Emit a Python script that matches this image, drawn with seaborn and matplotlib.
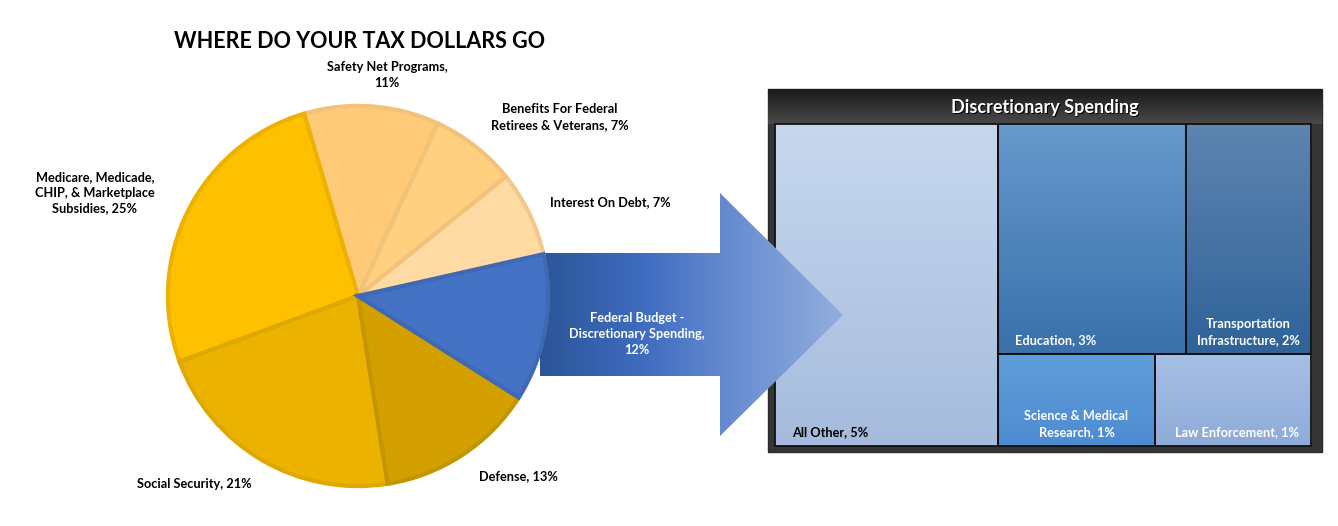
import numpy as np
import matplotlib
matplotlib.use("Agg")
import matplotlib.pyplot as plt
from matplotlib.patches import Polygon, Rectangle
import seaborn as sns

# pie data, counter-clockwise starting at the top edge of the blue slice
pie_labels = ["Interest On Debt, 7%",
              "Benefits For Federal\nRetirees & Veterans, 7%",
              "Safety Net Programs,\n11%",
              "Medicare, Medicade,\nCHIP, & Marketplace\nSubsidies, 25%",
              "Social Security, 21%",
              "Defense, 13%",
              "Federal Budget -\nDiscretionary Spending,\n12%"]
pie_values = [7, 7, 11, 25, 21, 13, 12]
pie_colors = ["#FFDBA3", "#FFD07F", "#FFCA78", "#FFC000", "#EBB300", "#D4A000", "#4472C4"]
pie_edges = ["#F2C98A", "#F2C27A", "#F2C27A", "#EDB200", "#DDA800", "#C59500", "#3F69B5"]
# label centres in pixels (x, y from top)
pie_label_pos = [(610, 202), (560, 117), (387, 75), (95, 193), (194, 484), (518, 476), (637, 334)]

# treemap data
tree_labels = ["All Other, 5%", "Education, 3%", "Transportation\nInfrastructure, 2%",
               "Science & Medical\nResearch, 1%", "Law Enforcement, 1%"]
tree_values = [5, 3, 2, 1, 1]
tree_top = ["#C7D7EE", "#6699CC", "#5E84B0", "#609DDB", "#A6BFE4"]
tree_bot = ["#A6BBDD", "#3A71AB", "#2F6399", "#4D8CD1", "#8EABD9"]
tree_text = ["black", "white", "white", "white", "white"]
tree_ha = ["left", "left", "center", "center", "right"]

sns.set_style("white")
plt.rcParams["font.family"] = ["Lato", "DejaVu Sans"]

W, H = 1338, 526
fig = plt.figure(figsize=(W / 100, H / 100), dpi=100)
fig.patch.set_facecolor("white")

# full-figure axes in pixel units
ax = fig.add_axes([0, 0, 1, 1])
ax.set_axis_off()


def vgrad(c_top, c_bot, n=64):
    pal = sns.blend_palette([c_top, c_bot], n_colors=n)
    return np.array(pal)[:, None, :]


# ---- treemap panel ----
px0, py0, px1, py1 = 768, 89, 1322, 452
ax.add_patch(Rectangle((px0, py0), px1 - px0, py1 - py0, facecolor="#353535", edgecolor="#2a2a2a", zorder=1))
ax.imshow(vgrad("#1a1a1a", "#4a4a4a"), extent=(px0, px1, 124, py0), aspect="auto", zorder=2)
title_kw = dict(fontsize=13, fontweight="bold", ha="center", va="center", zorder=3)
ax.text((px0 + px1) / 2 + 1.2, 108.5, "Discretionary  Spending".replace("  ", " "), color="#000000", **title_kw)
ax.text((px0 + px1) / 2, 107, "Discretionary Spending", color="white", **title_kw)


def layout(vals, x0, y0, x1, y1):
    total = sum(vals)
    xa = x0 + (x1 - x0) * vals[0] / total
    rects = [(x0, y0, xa, y1)]
    rest = vals[1:]
    yy = y0
    for row in [rest[0:2], rest[2:4]]:
        h = (y1 - y0) * sum(row) / sum(rest)
        xx = xa
        for v in row:
            w = (x1 - xa) * v / sum(row)
            rects.append((xx, yy, xx + w, yy + h))
            xx += w
        yy += h
    return rects


rects = layout(tree_values, 775, 124, 1311, 446)
for (x0, y0, x1, y1), lab, ct, cb, tc, ha in zip(rects, tree_labels, tree_top, tree_bot, tree_text, tree_ha):
    ax.imshow(vgrad(ct, cb), extent=(x0, x1, y1, y0), aspect="auto", zorder=2)
    ax.add_patch(Rectangle((x0, y0), x1 - x0, y1 - y0, fill=False, edgecolor="#111111", lw=1.3, zorder=3))
    if ha == "left":
        tx = x0 + 17
    elif ha == "right":
        tx = x1 - 12
    else:
        tx = (x0 + x1) / 2
    ax.text(tx, y1 - 8, lab, color=tc, fontsize=9.2, fontweight="bold", ha=ha, va="bottom",
            multialignment="center", linespacing=1.35, zorder=4)

# ---- arrow ----
arrow_pts = [(540, 253), (720, 253), (720, 193), (843, 315), (720, 436), (720, 376), (540, 376)]
arrow = Polygon(arrow_pts, closed=True, facecolor="none", edgecolor="none", zorder=5)
ax.add_patch(arrow)
hgrad = np.array(sns.blend_palette(["#2B5597", "#3F6CC0", "#6B8FD2", "#93AEDD"], n_colors=128))[None, :, :]
im = ax.imshow(hgrad, extent=(540, 843, 436, 193), aspect="auto", zorder=5)
im.set_clip_path(arrow)
ax.text(pie_label_pos[6][0], pie_label_pos[6][1], pie_labels[6], color="white", fontsize=9.2,
        fontweight="bold", ha="center", va="center", multialignment="center", linespacing=1.35, zorder=6)

# ---- title and pie labels ----
ax.text(360, 42, "WHERE DO YOUR TAX DOLLARS GO", fontsize=15.5, fontweight="bold",
        ha="center", va="center", color="black")
for lab, (lx, ly) in zip(pie_labels[:6], pie_label_pos[:6]):
    ax.text(lx, ly, lab, fontsize=9.2, fontweight="bold", ha="center", va="center",
            multialignment="center", linespacing=1.35, color="black")

ax.set_xlim(0, W)
ax.set_ylim(H, 0)

# ---- pie ----
cx, cy, r = 358, 296, 193
ax_pie = fig.add_axes([(cx - r) / W, 1 - (cy + r) / H, 2 * r / W, 2 * r / H])
ax_pie.set_axis_off()
wedges, _ = ax_pie.pie(pie_values, colors=pie_colors, startangle=12.7, counterclock=True,
                       radius=0.985, wedgeprops=dict(linewidth=3))
for w, ec in zip(wedges, pie_edges):
    w.set_edgecolor(ec)
ax_pie.set_xlim(-1, 1)
ax_pie.set_ylim(-1, 1)

fig.savefig("out.png", dpi=100, facecolor="white")
